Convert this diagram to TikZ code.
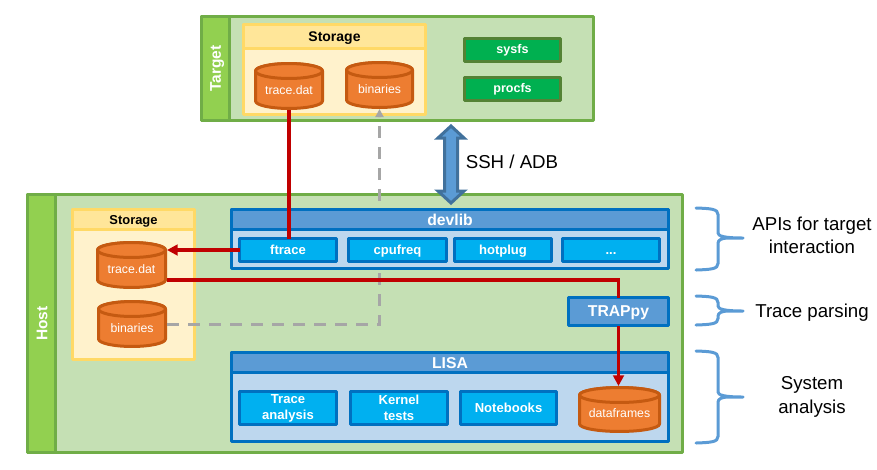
\documentclass[tikz,border=0pt]{standalone}
\usepackage{fontspec}
\setmainfont{Liberation Sans}
\usetikzlibrary{arrows.meta}
\definecolor{outerG}{HTML}{70AD47}
\definecolor{fillG}{HTML}{C5E0B4}
\definecolor{bandG}{HTML}{92D050}
\definecolor{yelE}{HTML}{FFD966}
\definecolor{yelH}{HTML}{FFE699}
\definecolor{yelB}{HTML}{FFF2CC}
\definecolor{orF}{HTML}{ED7D31}
\definecolor{orE}{HTML}{C55A11}
\definecolor{bluH}{HTML}{5B9BD5}
\definecolor{bluE}{HTML}{0070C0}
\definecolor{bluB}{HTML}{BDD7EE}
\definecolor{btn}{HTML}{00B0F0}
\definecolor{grnB}{HTML}{00B050}
\definecolor{grnE}{HTML}{548235}
\definecolor{redL}{HTML}{C00000}
\definecolor{gryL}{HTML}{A6A6A6}
\definecolor{arrE}{HTML}{41719C}
\tikzset{
  x=0.75pt,y=-0.75pt,
  bxbase/.style={rectangle,inner sep=0pt,outer sep=0pt,align=center,line width=2.25pt,line join=round},
  outerbox/.style={bxbase,draw=outerG,fill=fillG},
  bandbox/.style={bxbase,draw=outerG,fill=bandG,text=white,font=\fontsize{11.6pt}{14pt}\selectfont\bfseries},
  stobody/.style={bxbase,draw=yelE,fill=yelB},
  stohead/.style={bxbase,draw=yelE,fill=yelH,text depth=0pt,font=\fontsize{10.5pt}{12pt}\selectfont\bfseries},
  stoheadsm/.style={stohead,font=\fontsize{9.7pt}{12pt}\selectfont\bfseries},
  blubody/.style={bxbase,draw=bluE,fill=bluB},
  bluhead/.style={bxbase,draw=bluE,fill=bluH,text=white,text depth=0pt,font=\fontsize{11.8pt}{14pt}\selectfont\bfseries},
  btnbox/.style={bxbase,draw=bluE,fill=btn,text=white,font=\fontsize{9.8pt}{12.2pt}\selectfont\bfseries},
  btnone/.style={btnbox,text depth=0pt},
  grnbox/.style={bxbase,draw=grnE,fill=grnB,text=white,font=\fontsize{9.4pt}{12pt}\selectfont\bfseries},
  cylbody/.style={draw=orE,fill=orF,line width=2.25pt,line join=round},
  cyllabel/.style={rectangle,inner sep=0pt,outer sep=0pt,text=white,font=\fontsize{9.2pt}{11pt}\selectfont},
  redline/.style={draw=redL,line width=2.5pt},
  redarrow/.style={redline,-{Triangle[length=8pt,width=8pt]}},
  grayline/.style={draw=gryL,line width=2.25pt,dash pattern=on 9pt off 6.75pt},
  grayarrow/.style={grayline,-{Triangle[length=6pt,width=6pt]}},
  bracel/.style={draw=bluH,line width=2.25pt,line cap=round},
  lbl/.style={align=center,inner sep=0pt,font=\fontsize{14pt}{17.4pt}\selectfont},
}
\newcommand{\rbox}[7]{%
  \pgfmathsetmacro{\bw}{(#5-#3)*0.75-2.25}%
  \pgfmathsetmacro{\bh}{(#6-#4)*0.75-2.25}%
  \node[#2,minimum width=\bw pt,minimum height=\bh pt] (#1) at ({(#3+#5)/2},{(#4+#6)/2}) {#7};%
}
% name, label, x1, y1, x2, y2 (outer edges in px)
\newcommand{\cylnode}[6]{%
  \pgfmathsetmacro{\cxa}{#3+1.5}\pgfmathsetmacro{\cxb}{#5-1.5}%
  \pgfmathsetmacro{\cya}{#4+9}\pgfmathsetmacro{\cyb}{#6-9}%
  \pgfmathsetmacro{\crx}{(#5-#3-3)/2*0.75}%
  \pgfmathsetmacro{\cxm}{(#3+#5)/2}\pgfmathsetmacro{\cym}{(#4+#6)/2}%
  \path[cylbody] (\cxa,\cya) -- (\cxa,\cyb) arc[start angle=180,end angle=360,x radius=\crx pt,y radius=5.6pt]
     -- (\cxb,\cya) arc[start angle=0,end angle=180,x radius=\crx pt,y radius=5.6pt] -- cycle;
  \path[cylbody] (\cxm,\cya) ellipse[x radius=\crx pt,y radius=5.6pt];
  \node[minimum width={(#5-#3)*0.75pt},minimum height={(#6-#4)*0.75pt},cyllabel,text depth=-2.2pt,text height=6.6pt,yshift=-3pt] (#1tx) at (\cxm,\cym) {#2};
  \coordinate (#1) at (\cxm,\cym);
  \coordinate (#1N) at (\cxm,#4);
  \coordinate (#1S) at (\cxm,#6);
  \coordinate (#1E) at (#5,\cym);
}
\newcommand{\bracelabel}[3]{% y1, ymid, y2
  \draw[bracel] (696,#1) .. controls (711,{#1+.5}) and (718,{#1+1}) .. (718,{#1+6.5}) -- (718,{#2-5})
     .. controls (718,{#2-2}) and (724,#2) .. (743,#2)
     (743,#2) -- (728,#2) .. controls (722,#2) and (718,{#2+2}) .. (718,{#2+5}) -- (718,{#3-6.5})
     .. controls (718,{#3-1}) and (711,{#3-.5}) .. (696,#3);
}
\begin{document}
\begin{tikzpicture}
\useasboundingbox (0,0) rectangle (877,469);
% Target
\rbox{target}{outerbox}{200}{15}{595}{122}{}
\rbox{targetband}{bandbox}{200}{15}{231}{122}{\hspace*{2.5pt}\rotatebox{90}{Target}}
\rbox{tsto}{stobody}{242}{23}{427}{116}{}
\rbox{tstoh}{stohead}{242}{23}{427}{50}{Storage}
\cylnode{ttrace}{trace.dat}{254}{62}{324}{110}
\cylnode{tbin}{binaries}{345}{61}{414}{109}
\rbox{sysfs}{grnbox}{463}{37}{562}{63}{sysfs}
\rbox{procfs}{grnbox}{463}{76}{562}{102}{procfs}
% Host
\rbox{host}{outerbox}{26}{193}{684}{454}{}
\rbox{hostband}{bandbox}{26}{193}{57}{454}{\hspace*{.8pt}\rotatebox{90}{Host}}
\rbox{hsto}{stobody}{71}{208}{196}{361}{}
\rbox{hstoh}{stoheadsm}{71}{208}{196}{231}{Storage}
\cylnode{htrace}{trace.dat}{96}{241}{167}{289}
\cylnode{hbin}{binaries}{97}{300}{167}{348}
% dashed link passes behind devlib
\draw[grayarrow] (hbinE) -| (tbinS);
% devlib
\rbox{devlibb}{blubody}{230}{208}{670}{270}{}
\rbox{devlib}{bluhead}{230}{208}{670}{231}{devlib}
\rbox{ftrace}{btnone}{238}{237}{338}{263}{ftrace}
\rbox{cpufreq}{btnone}{347}{237}{448}{263}{cpufreq}
\rbox{hotplug}{btnone}{453}{237}{553}{263}{hotplug}
\rbox{dots}{btnone,text height=7pt}{561}{237}{661}{263}{...}
\rbox{trappy}{bluhead}{567}{296}{670}{327}{TRAPpy}
% LISA
\rbox{lisab}{blubody}{230}{351}{670}{443}{}
\rbox{lisa}{bluhead}{230}{351}{670}{374}{LISA}
\rbox{tanal}{btnbox}{238}{390}{338}{426}{Trace\\analysis}
\rbox{ktests}{btnbox}{349}{390}{449}{426}{Kernel\\tests}
\rbox{nbooks}{btnbox}{459}{390}{558}{426}{Notebooks}
\cylnode{dframes}{dataframes}{578}{386}{661}{433}
% red links
\draw[redline] (ttraceS) -- (ttraceS |- ftrace.north);
\draw[redarrow] (ftrace.west) -- (htraceE |- ftrace.west);
\draw[redline] ([yshift=-11.25pt]htraceE) -| (trappy.north);
\draw[redarrow] (trappy.south) -- (trappy.south |- dframesN);
% SSH arrow between target and host
\coordinate (ssht) at (451,126);
\draw[draw=arrE,fill=bluH,line width=2.25pt,miter limit=4] (ssht) -- ++(13,12) -- ++(-6.5,0) -- ++(0,53) -- ++(6.5,0) -- ++(-13,12) -- ++(-13,-12) -- ++(6.5,0) -- ++(0,-53) -- ++(-6.5,0) -- cycle;
\node[lbl] (sshl) at (512,162) {SSH / ADB};
% braces and labels
\bracelabel{208}{238}{270}
\bracelabel{296}{311}{325}
\bracelabel{351}{397}{443}
\node[lbl] (l1) at (812,235.5) {APIs for target\\interaction};
\node[lbl,text depth=0pt] (l2) at (812,311) {Trace parsing};
\node[lbl] (l3) at (812,397) {System\\analysis};
\end{tikzpicture}
\end{document}
